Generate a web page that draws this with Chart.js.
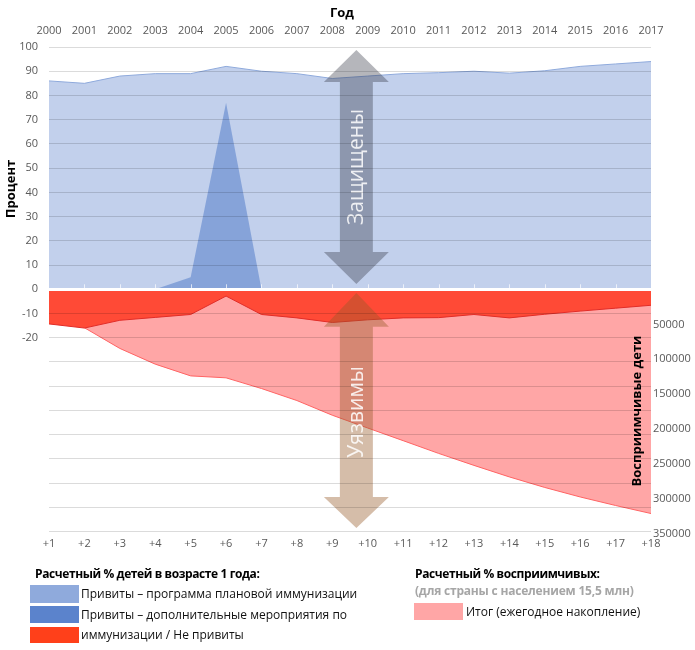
<!DOCTYPE html>
<html lang="ru">
<head>
<meta charset="utf-8">
<script src="https://cdn.jsdelivr.net/npm/chart.js@4.4.1/dist/chart.umd.min.js"></script>
<style>
    body { margin: 0; background: #fff; font-family: "Open Sans", sans-serif; }
    #wrap { position: relative; width: 695px; height: 650px; overflow: hidden; }
    canvas { position: absolute; left: 0; top: 0; }
    .lg { position: absolute; white-space: nowrap; font-size: 12px; line-height: 16px; color: #111; }
    .b { font-weight: bold; color: #000; letter-spacing: -0.4px; }
    .gr { font-weight: bold; color: #a6a6a6; letter-spacing: -0.2px; }
    .sw { position: absolute; }
</style>
</head>
<body>
<div id="wrap">
    <canvas id="immunizationChart" width="695" height="650"></canvas>

    <div class="lg b" style="left:35px; top:566px;">Расчетный % детей в возрасте 1 года:</div>
    <div class="sw" style="left:30px; top:585px; width:49px; height:18px; background:#8FAADC;"></div>
    <div class="lg" style="left:81px; top:586px;">Привиты – программа плановой иммунизации</div>
    <div class="sw" style="left:30px; top:606px; width:49px; height:17px; background:#5B83CC;"></div>
    <div class="lg" style="left:81px; top:607px;">Привиты – дополнительные мероприятия по</div>
    <div class="sw" style="left:30px; top:627px; width:49px; height:16px; background:#FF401A;"></div>
    <div class="lg" style="left:81px; top:627px;">иммунизации / Не привиты</div>

    <div class="lg b" style="left:415px; top:566px;">Расчетный % восприимчивых:</div>
    <div class="lg gr" style="left:415px; top:583px;">(для страны с населением 15,5 млн)</div>
    <div class="sw" style="left:414px; top:603px; width:49px; height:17px; background:#FFA6A6;"></div>
    <div class="lg" style="left:466px; top:604px;">Итог (ежегодное накопление)</div>
</div>

<script>
// данные
const years = ['2000', '2001', '2002', '2003', '2004', '2005', '2006', '2007', '2008',
    '2009', '2010', '2011', '2012', '2013', '2014', '2015', '2016', '2017'];
const ageLabels = ['+1', '+2', '+3', '+4', '+5', '+6', '+7', '+8', '+9',
    '+10', '+11', '+12', '+13', '+14', '+15', '+16', '+17', '+18'];

const routineCoverage = [86, 85, 88, 89, 89, 92, 90, 89, 87, 88, 89, 89.4, 90, 89.2, 90.2, 92, 93, 94];
const siaCoverage = [0, 0, 0, 0, 5, 77, 0, 0, 0, 0, 0, 0, 0, 0, 0, 0, 0, 0];
const notVaccinated = [-14.3, -16, -12.8, -11.6, -10.4, -2.8, -10.4, -11.8, -13.7,
    -12.6, -11.8, -11.7, -10.4, -11.8, -10.3, -9, -7.8, -6.6];
const susceptibleTotal = [30800, 54800, 84400, 106900, 123700, 126500, 141800, 159000, 180000,
    198300, 216400, 234600, 251800, 268300, 283400, 297000, 309200, 320700];

const percentTicks = [100, 90, 80, 70, 60, 50, 40, 30, 20, 10, 0, -10, -20,
    -30, -40, -50, -60, -70, -80, -90, -100];
const childrenTicks = [50000, 100000, 150000, 200000, 250000, 300000, 350000];

const tickFont = { family: '"Open Sans", sans-serif', size: 11 };
const tickColor = '#595959';

function drawArrow(ctx, cx, tipTop, baseTop, baseBot, tipBot, color, text) {
    const head = 32.5, shaft = 16.5;
    ctx.save();
    ctx.fillStyle = color;
    ctx.beginPath();
    ctx.moveTo(cx, tipTop);
    ctx.lineTo(cx + head, baseTop);
    ctx.lineTo(cx + shaft, baseTop);
    ctx.lineTo(cx + shaft, baseBot);
    ctx.lineTo(cx + head, baseBot);
    ctx.lineTo(cx, tipBot);
    ctx.lineTo(cx - head, baseBot);
    ctx.lineTo(cx - shaft, baseBot);
    ctx.lineTo(cx - shaft, baseTop);
    ctx.lineTo(cx - head, baseTop);
    ctx.closePath();
    ctx.fill();
    ctx.translate(cx, (baseTop + baseBot) / 2);
    ctx.rotate(-Math.PI / 2);
    ctx.font = '21px "Open Sans", sans-serif';
    ctx.fillStyle = 'rgba(255,255,255,0.85)';
    ctx.textAlign = 'center';
    ctx.textBaseline = 'middle';
    ctx.fillText(text, 0, 1);
    ctx.restore();
}

function rotatedText(ctx, text, x, y) {
    ctx.save();
    ctx.translate(x, y);
    ctx.rotate(-Math.PI / 2);
    ctx.fillText(text, 0, 0);
    ctx.restore();
}

const decorPlugin = {
    id: 'decor',
    afterDatasetsDraw(chart) {
        const ctx = chart.ctx;
        const x = chart.scales.x;
        const y = chart.scales.y;
        const cx = x.getPixelForValue(8.68);
        drawArrow(ctx, cx, y.getPixelForValue(98.8), y.getPixelForValue(85.6),
            y.getPixelForValue(15.4), y.getPixelForValue(2.2), 'rgba(43,46,60,0.35)', 'Защищены');
        drawArrow(ctx, cx, y.getPixelForValue(-1.5), y.getPixelForValue(-15.5),
            y.getPixelForValue(-85.7), y.getPixelForValue(-98.5), 'rgba(150,90,40,0.4)', 'Уязвимы');
    },
    afterDraw(chart) {
        const ctx = chart.ctx;
        const x = chart.scales.x;
        const y0 = chart.scales.y.getPixelForValue(0);

        // засечки на нулевой линии
        ctx.save();
        ctx.strokeStyle = 'rgba(255,255,255,0.7)';
        ctx.lineWidth = 1;
        for (let i = 1; i < ageLabels.length; i++) {
            const px = Math.round(x.getPixelForValue(i)) + 0.5;
            ctx.beginPath();
            ctx.moveTo(px, y0 - 5);
            ctx.lineTo(px, y0 - 1);
            ctx.stroke();
        }

        ctx.fillStyle = '#000';
        ctx.font = 'bold 13px "Open Sans", sans-serif';
        ctx.textAlign = 'center';
        ctx.textBaseline = 'middle';
        ctx.fillText('Год', 342, 13);
        rotatedText(ctx, 'Процент', 11, 189);
        rotatedText(ctx, 'Восприимчивые дети', 637, 411);
        ctx.restore();
    }
};

const ctx = document.getElementById('immunizationChart').getContext('2d');

new Chart(ctx, {
    type: 'line',
    data: {
        labels: ageLabels,
        datasets: [
            {
                label: 'Привиты – дополнительные мероприятия по иммунизации',
                data: siaCoverage,
                yAxisID: 'y',
                backgroundColor: 'rgba(91,131,204,0.58)',
                borderWidth: 0,
                fill: 'origin',
                pointRadius: 0,
                order: 1
            },
            {
                label: 'Привиты – программа плановой иммунизации',
                data: routineCoverage,
                yAxisID: 'y',
                backgroundColor: 'rgba(143,170,220,0.55)',
                borderColor: 'rgba(143,170,220,1)',
                borderWidth: 1,
                fill: 'origin',
                pointRadius: 0,
                order: 2
            },
            {
                label: 'Не привиты',
                data: notVaccinated,
                yAxisID: 'y',
                backgroundColor: 'rgb(255,74,54)',
                borderColor: 'rgb(225,45,40)',
                borderWidth: 1,
                fill: 'origin',
                pointRadius: 0,
                order: 3
            },
            {
                label: 'Итог (ежегодное накопление)',
                data: susceptibleTotal,
                yAxisID: 'y2',
                backgroundColor: '#FFA6A6',
                borderColor: 'rgb(255,100,100)',
                borderWidth: 1,
                fill: 'origin',
                pointRadius: 0,
                order: 4
            }
        ]
    },
    options: {
        responsive: false,
        animation: false,
        layout: { padding: 0 },
        scales: {
            x: {
                type: 'category',
                position: 'bottom',
                offset: false,
                grid: { display: false, drawTicks: false },
                border: { display: false },
                ticks: { color: tickColor, font: tickFont, padding: 3, maxRotation: 0, autoSkip: false },
                afterFit: function (scale) { scale.height = 116; }
            },
            xTop: {
                type: 'category',
                labels: years,
                position: 'top',
                offset: false,
                grid: { display: false, drawTicks: false },
                border: { display: false },
                ticks: { color: tickColor, font: tickFont, padding: 10, maxRotation: 0, autoSkip: false },
                afterFit: function (scale) { scale.height = 47; }
            },
            y: {
                position: 'left',
                min: -101,
                max: 100,
                afterBuildTicks: function (scale) {
                    scale.ticks = percentTicks.map(v => ({ value: v }));
                },
                ticks: {
                    color: tickColor,
                    font: tickFont,
                    padding: 11,
                    callback: v => (v >= -20 ? String(v) : '')
                },
                grid: {
                    z: 1,
                    drawTicks: false,
                    color: c => (c.tick && c.tick.value === 0 ? '#ffffff' : 'rgba(0,0,0,0.14)'),
                    lineWidth: c => (c.tick && c.tick.value === 0 ? 3 : 1)
                },
                border: { display: false },
                afterFit: function (scale) { scale.width = 49; }
            },
            y2: {
                position: 'right',
                min: -347000,
                max: 350000,
                reverse: true,
                afterBuildTicks: function (scale) {
                    scale.ticks = childrenTicks.map(v => ({ value: v }));
                },
                ticks: { color: tickColor, font: tickFont, padding: 2, callback: v => String(v) },
                grid: { display: false, drawTicks: false },
                border: { display: false },
                afterFit: function (scale) { scale.width = 44; }
            }
        },
        plugins: {
            legend: { display: false },
            tooltip: { enabled: false }
        }
    },
    plugins: [decorPlugin]
});
</script>
</body>
</html>
